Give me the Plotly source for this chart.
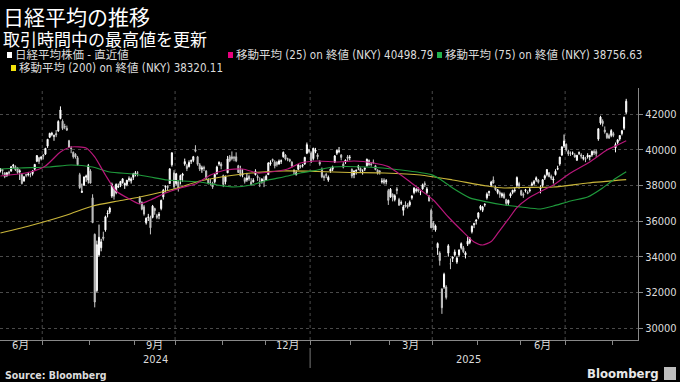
import numpy as np
import pandas as pd
import plotly.graph_objects as go

# ---------------- data ----------------
START_DATE = "2024-06-03"
END_DATE = "2025-08-12"
HOLIDAYS = ["2024-07-15", "2024-08-12", "2024-09-16", "2024-09-23", "2024-10-14",
            "2024-11-04", "2024-12-31", "2025-01-01", "2025-01-02", "2025-01-03",
            "2025-01-13", "2025-02-11", "2025-02-24", "2025-03-20", "2025-04-29",
            "2025-05-05", "2025-05-06", "2025-07-21", "2025-08-11"]

OPEN = [
    # 2024-06
    38800, 38880, 38700, 38540, 38750, 38800, 39090, 39050, 38980, 38750, 38600, 38250, 38600, 38600, 38600, 38650, 38900, 39350, 39550, 39500,
    # 2024-07
    39700, 39750, 40200, 40700, 40850, 40750, 40900, 41050, 41750, 41600, 41300, 41200, 40500, 40100, 39850, 39750, 39550, 38600, 37600, 38000, 38450, 38300,
    # 2024-08
    38800, 37300, 35250, 32100, 34100, 34500, 35100, 35500, 36400, 36500, 37400, 37800, 37600, 37900, 38000, 38150, 38000, 38050, 38300, 38250, 38450,
    # 2024-09
    38600, 38700, 37300, 37050, 36800, 35900, 36200, 36200, 36200, 36700, 36300, 36300, 36700, 37350, 37900, 37950, 38100, 39150, 38700,
    # 2024-10
    38100, 38200, 38300, 38550, 39200, 39100, 39050, 39350, 39400, 40000, 39600, 39150, 38900, 39000, 38800, 38300, 38150, 38100, 38200, 38650, 39200, 39200,
    # 2024-11
    38550, 38200, 38700, 39600, 39600, 39550, 39600, 39100, 38900, 38600, 38400, 38300, 38500, 38200, 38200, 38600, 38500, 38200, 38200, 38300,
    # 2024-12
    38300, 38600, 39200, 39450, 39300, 39300, 39200, 39350, 39600, 39700, 39500, 39450, 39300, 38800, 38600, 38900, 39100, 39100, 39200, 39800, 40000,
    # 2025-01
    39800, 39500, 39900, 39700, 39300, 38900, 38500, 38600, 38300, 38800, 38900, 39300, 39800, 39900, 39700, 39200, 39300, 39600, 39550,
    # 2025-02
    38900, 38600, 38800, 39000, 38950, 38800, 38900, 39100, 39400, 39200, 39300, 39100, 38850, 38800, 38200, 38300, 38200, 37700,
    # 2025-03
    37350, 37500, 37200, 37800, 37200, 37000, 36600, 36900, 36900, 36900, 37300, 37600, 37700, 37800, 37600, 37800, 38100, 37600, 37400, 36600,
    # 2025-04
    35900, 35500, 34500, 34200, 32200, 32300, 32300, 34200, 33600, 33900, 34100, 33700, 34100, 34500, 34500, 34100, 34700, 34800, 35400, 35800, 36000,
    # 2025-05
    36200, 36700, 36600, 36900, 37300, 37600, 38000, 38300, 37900, 37600, 37600, 37400, 37500, 37200, 37000, 37400, 37600, 37700, 38000, 38100,
    # 2025-06
    37700, 37500, 37700, 37600, 37700, 38000, 38100, 38300, 38300, 37800, 38000, 38400, 38600, 38700, 38500, 38300, 38600, 38900, 39200, 39700, 40200,
    # 2025-07
    40300, 39900, 39800, 39800, 39700, 39400, 39800, 39700, 39500, 39500, 39600, 39600, 39700, 39900, 39900, 40600, 41500, 41600, 41100, 40900, 40800, 40800,
    # 2025-08
    40900, 40100, 40400, 40600, 40900, 41200, 42100,
]
HIGH = [
    38950, 38900, 38720, 38750, 38820, 39080, 39200, 39120, 39000, 38900, 38650, 38500, 38650, 38750, 38700, 38850, 39200, 39700, 39600, 39650,
    39750, 40100, 40600, 40950, 41000, 40850, 41100, 41650, 42426, 41700, 41450, 41350, 40550, 40200, 39900, 39800, 39650, 38700, 38100, 38500, 38600, 39200,
    38900, 37500, 35300, 34900, 35800, 35000, 35400, 36300, 36600, 36800, 38150, 37950, 38100, 38100, 38250, 38400, 38150, 38300, 38500, 38450, 38700,
    38800, 38800, 37400, 37100, 36900, 36200, 36400, 36300, 36900, 36750, 36400, 36500, 37200, 37800, 38000, 38000, 38950, 39830, 38850,
    38700, 38300, 38600, 38700, 39500, 39200, 39400, 39450, 39650, 40250, 39650, 39250, 39100, 39100, 38850, 38400, 38350, 38200, 38650, 39100, 39350, 39300,
    38600, 38550, 39650, 39700, 39900, 39650, 39850, 39150, 39100, 38900, 38450, 38700, 38600, 38400, 38400, 38900, 38600, 38450, 38400, 38500,
    38600, 39300, 39400, 39500, 39400, 39350, 39450, 39450, 39900, 39750, 39550, 39500, 39350, 38900, 38850, 39200, 39150, 39200, 39600, 40400, 40050,
    39900, 40100, 40100, 39800, 39400, 39000, 38600, 38700, 38550, 38950, 39100, 39700, 40000, 40150, 39750, 39300, 39450, 39700, 39700,
    38950, 38850, 38900, 39150, 39000, 38900, 39000, 39500, 39450, 39300, 39450, 39150, 38900, 38850, 38400, 38400, 38350, 37800,
    37850, 37550, 37500, 37900, 37300, 37150, 36900, 37100, 37000, 37150, 37450, 37900, 37850, 37900, 37700, 38100, 38220, 37900, 37450, 36700,
    36000, 35800, 34800, 34300, 32200, 33100, 32400, 34700, 33900, 34000, 34400, 34000, 34400, 34800, 34600, 34300, 35100, 35100, 35750, 35900, 36100,
    36500, 36900, 36850, 37000, 37600, 37700, 38250, 38500, 38000, 37800, 37700, 37600, 37600, 37250, 37200, 37600, 37750, 37900, 38500, 38200,
    37750, 37600, 37800, 37700, 37850, 38200, 38300, 38500, 38350, 38000, 38350, 38600, 38900, 38750, 38600, 38500, 38900, 39100, 39600, 40200, 40850,
    40350, 40000, 39900, 39900, 39800, 39700, 39900, 39800, 39700, 39600, 39800, 39700, 39950, 40000, 40000, 41200, 41900, 41700, 41300, 40950, 40900, 41150,
    41000, 40400, 40600, 40800, 41100, 41850, 42850,
]
LOW = [
    38720, 38600, 38400, 38480, 38560, 38760, 38950, 38800, 38650, 38300, 38050, 38200, 38450, 38500, 38450, 38550, 38850, 39300, 39200, 39400,
    39450, 39700, 40100, 40650, 40750, 40500, 40700, 41000, 41700, 41100, 41150, 41050, 40100, 39800, 39500, 39500, 39100, 37800, 37600, 38000, 38200, 38100,
    38100, 35880, 31156, 32000, 34000, 34300, 34900, 35400, 36200, 36400, 37300, 37200, 37500, 37850, 37900, 38100, 37800, 37950, 38200, 38100, 38300,
    38500, 38500, 36950, 36600, 36300, 35800, 36000, 35250, 36150, 36350, 36100, 36100, 36600, 37200, 37600, 37700, 38100, 39050, 37800,
    38000, 37650, 38050, 38200, 39100, 38800, 39000, 39200, 39300, 39850, 39100, 38800, 38700, 38800, 38300, 38050, 38000, 37800, 38100, 38600, 39100, 38900,
    37900, 38050, 38700, 39300, 39400, 39350, 39300, 38700, 38500, 38450, 38100, 38200, 38250, 38000, 38150, 38550, 38250, 37900, 38100, 37900,
    38250, 38600, 39100, 39300, 38950, 39050, 39150, 39200, 39550, 39400, 39350, 39300, 39000, 38600, 38550, 38850, 38950, 39000, 39150, 39750, 39800,
    39250, 39400, 39800, 39450, 39100, 38400, 38250, 38400, 38200, 38700, 38800, 39250, 39700, 39800, 39400, 38950, 39200, 39350, 39400,
    38400, 38400, 38600, 38850, 38700, 38600, 38800, 39050, 39100, 39050, 39200, 38850, 38600, 38600, 38100, 38050, 38050, 36900,
    37300, 37100, 37100, 37500, 36850, 36900, 36300, 36750, 36700, 36800, 37200, 37500, 37600, 37600, 37450, 37750, 37900, 37500, 37100, 35600,
    35500, 35400, 34100, 33500, 30792, 32200, 31600, 34000, 33300, 33700, 34000, 33600, 34000, 34400, 34200, 33900, 34600, 34700, 35300, 35600, 35800,
    36100, 36600, 36500, 36800, 37200, 37400, 37900, 38100, 37700, 37500, 37300, 37300, 37250, 36850, 36900, 37300, 37500, 37600, 37900, 37800,
    37400, 37300, 37600, 37500, 37600, 37950, 38000, 38200, 38100, 37550, 37900, 38300, 38500, 38450, 38300, 38100, 38550, 38850, 39100, 39650, 40100,
    39900, 39650, 39650, 39700, 39550, 39400, 39700, 39500, 39400, 39300, 39500, 39400, 39600, 39700, 39600, 40500, 41400, 41300, 40900, 40600, 40600, 40700,
    40700, 39850, 40300, 40500, 40800, 41100, 42000,
]
CLOSE = [
    38923, 38837, 38490, 38703, 38683, 39038, 39134, 38876, 38720, 38814, 38102, 38482, 38570, 38633, 38596, 38804, 39173, 39667, 39341, 39583,
    39631, 40074, 40580, 40913, 40912, 40780, 40831, 41580, 42224, 41190, 41275, 41097, 40126, 40063, 39599, 39594, 39154, 37869, 37667, 38468, 38525, 39101,
    38126, 35909, 31458, 34675, 35089, 34831, 35025, 36232, 36442, 36726, 38062, 37388, 38062, 37951, 38211, 38364, 38110, 38288, 38371, 38362, 38647,
    38700, 38686, 37047, 36657, 36391, 36159, 36215, 35619, 36833, 36581, 36203, 36380, 37155, 37723, 37940, 37870, 38925, 39829, 37919,
    38651, 37808, 38552, 38635, 39332, 38937, 39277, 39380, 39605, 39910, 39180, 38911, 38981, 38954, 38411, 38104, 38143, 37913, 38605, 39027, 39277, 39081,
    38053, 38474, 39480, 39381, 39500, 39533, 39376, 38721, 38535, 38642, 38220, 38414, 38352, 38026, 38283, 38780, 38442, 38134, 38349, 38208,
    38513, 39248, 39276, 39395, 39091, 39160, 39367, 39372, 39849, 39470, 39457, 39364, 39081, 38813, 38701, 39161, 39036, 39130, 39568, 40281, 39894,
    39307, 40083, 39981, 39605, 39190, 38474, 38444, 38572, 38451, 38902, 39027, 39646, 39958, 39931, 39565, 39016, 39414, 39513, 39572,
    38520, 38798, 38831, 39066, 38787, 38801, 38963, 39461, 39149, 39174, 39270, 38878, 38678, 38776, 38237, 38142, 38256, 37155,
    37785, 37331, 37418, 37704, 36887, 37028, 36793, 36819, 36790, 37053, 37396, 37845, 37751, 37677, 37608, 38027, 38027, 37799, 37120, 35617,
    35624, 35725, 34736, 33781, 31136, 33012, 31714, 34609, 33586, 33982, 34267, 33920, 34377, 34730, 34280, 34220, 34868, 35039, 35705, 35839, 36045,
    36452, 36830, 36780, 36928, 37503, 37644, 38183, 38128, 37755, 37753, 37498, 37529, 37299, 36985, 37160, 37532, 37724, 37722, 38433, 37965,
    37470, 37446, 37747, 37554, 37741, 38088, 38211, 38421, 38173, 37834, 38311, 38536, 38885, 38488, 38403, 38354, 38790, 38942, 39584, 40150, 40487,
    39986, 39762, 39785, 39810, 39587, 39688, 39821, 39646, 39570, 39459, 39678, 39663, 39901, 39819, 39774, 41171, 41826, 41456, 40998, 40674, 40654, 41069,
    40799, 40290, 40549, 40794, 41059, 41820, 42718,
]

# moving averages (at these trading days)
MA25_DATES = ["2024-06-03", "2024-06-21", "2024-07-02", "2024-07-11", "2024-07-19", "2024-07-30", "2024-08-05",
              "2024-08-13", "2024-08-20", "2024-08-29", "2024-09-04", "2024-09-11", "2024-09-24", "2024-10-03",
              "2024-10-15", "2024-10-24", "2024-11-05", "2024-11-15", "2024-11-26", "2024-12-04", "2024-12-16",
              "2024-12-24", "2025-01-09", "2025-01-23", "2025-02-04", "2025-02-18", "2025-02-28", "2025-03-04",
              "2025-03-13", "2025-03-24", "2025-04-01", "2025-04-10", "2025-04-18", "2025-04-28", "2025-05-07",
              "2025-05-13", "2025-05-16", "2025-05-23", "2025-05-29", "2025-06-05", "2025-06-13", "2025-06-23",
              "2025-07-03", "2025-07-16", "2025-07-29", "2025-08-05", "2025-08-12"]
MA25 = [38524, 38748, 39084, 39869, 40150, 40094, 39590,
        38580, 37683, 37178, 36954, 37178, 37570, 37851,
        38075, 38580, 38860, 38916, 38692, 38748, 38916,
        39253, 39365, 39309, 39365, 39253, 39050, 38900,
        38299, 37739, 37178, 36225, 35496, 34823, 34655,
        34850, 35300, 36100, 36750, 37250, 37650, 38019,
        38692, 39309, 39981, 40262, 40499]

MA75_DATES = ["2024-06-03", "2024-06-14", "2024-07-04", "2024-07-19", "2024-08-02", "2024-08-15", "2024-08-30",
              "2024-09-11", "2024-09-25", "2024-10-04", "2024-10-17", "2024-10-29", "2024-11-11", "2024-11-21",
              "2024-12-03", "2024-12-12", "2024-12-24", "2025-01-09", "2025-01-21", "2025-02-13", "2025-03-10",
              "2025-03-31", "2025-04-04", "2025-04-14", "2025-04-24", "2025-05-09", "2025-05-21", "2025-06-02",
              "2025-06-13", "2025-06-23", "2025-07-03", "2025-07-15", "2025-07-25", "2025-08-01", "2025-08-12"]
MA75 = [38916, 38972, 39028, 39140, 39028, 38748, 38636,
        38468, 38299, 38243, 38187, 38019, 37907, 38019,
        38299, 38468, 38692, 38860, 39028, 39028, 38860,
        38600, 38350, 37850, 37300, 37070, 36898, 36786,
        36674, 36842, 37122, 37346, 37851, 38299, 38757]

MA200_DATES = ["2024-06-03", "2024-06-24", "2024-07-17", "2024-08-02", "2024-08-21", "2024-09-04", "2024-09-30",
               "2024-10-17", "2024-10-31", "2024-11-21", "2024-12-12", "2025-01-09", "2025-01-31", "2025-02-26",
               "2025-03-24", "2025-04-14", "2025-05-09", "2025-05-21", "2025-06-02", "2025-06-23", "2025-07-15",
               "2025-08-12"]
MA200 = [35328, 35776, 36337, 36842, 37122, 37346, 37795,
         38243, 38468, 38692, 38804, 38776, 38720, 38692,
         38580, 38299, 37963, 37851, 37879, 37907, 38131,
         38320]

Y_TICKS = [30000, 32000, 34000, 36000, 38000, 40000, 42000]
Y_RANGE = [29327, 43458]
MONTH_LABEL_PERIODS = ["2024-06", "2024-09", "2024-12", "2025-03", "2025-06"]
MONTH_LABEL_TEXT = ["6月", "9月", "12月", "3月", "6月"]
YEAR_LABELS = ["2024", "2025"]
GRID_MONTHS = [1, 4, 7, 10]

TITLE = "日経平均の推移"
SUBTITLE = "取引時間中の最高値を更新"
LEGEND_TEXT = ["日経平均株価 - 直近値",
               "移動平均 (25) on 終値 (NKY) 40498.79",
               "移動平均 (75) on 終値 (NKY) 38756.63",
               "移動平均 (200) on 終値 (NKY) 38320.11"]

# ---------------- build ----------------
bd = pd.bdate_range(START_DATE, END_DATE)
hol = pd.DatetimeIndex(HOLIDAYS)
DATES = bd[~bd.isin(hol)]
n = len(DATES)
for name, arr in [("OPEN", OPEN), ("HIGH", HIGH), ("LOW", LOW), ("CLOSE", CLOSE)]:
    if len(arr) != n:
        raise ValueError(f"{name} has {len(arr)} values, expected {n}")
pos = {d.strftime("%Y-%m-%d"): i for i, d in enumerate(DATES)}
idx = np.arange(n)

def to_idx(ds):
    return [pos[d] for d in ds]

months = DATES.to_period("M")
starts = [i for i in range(1, n) if months[i] != months[i - 1]]
bounds = [s - 0.5 for s in starts]
grid_b = [s - 0.5 for s in starts if DATES[s].month in GRID_MONTHS]
year_b = [s - 0.5 for s in starts if DATES[s].month == 1][0]

X_RANGE = [-0.2, 297.5]

W, H = 680, 382
ML, MR, MT, MB = 0, 42, 88, 42
PW, PH = W - ML - MR, H - MT - MB

def px(x):
    return (x - ML) / PW

def py(y):
    return 1 - (y - MT) / PH

COL_MA25 = "#b8177a"
COL_MA75 = "#1f9a3c"
COL_MA200 = "#c9b53a"
SQ_COLS = ["#ffffff", "#e6007e", "#22b14c", "#f2e20c"]

fig = go.Figure()
fig.add_trace(go.Candlestick(
    x=idx, open=OPEN, high=HIGH, low=LOW, close=CLOSE,
    increasing=dict(line=dict(color="#ffffff", width=1), fillcolor="#ffffff"),
    decreasing=dict(line=dict(color="#c4c4c4", width=1), fillcolor="#b4b4b4"),
    whiskerwidth=0, showlegend=False, hoverinfo="skip",
))
for ds, vals, col in [(MA200_DATES, MA200, COL_MA200), (MA75_DATES, MA75, COL_MA75), (MA25_DATES, MA25, COL_MA25)]:
    fig.add_trace(go.Scatter(x=to_idx(ds), y=vals, mode="lines",
                             line=dict(color=col, width=1.2, shape="spline", smoothing=0.6),
                             showlegend=False, hoverinfo="skip"))

shapes = []
for b in grid_b:
    shapes.append(dict(type="line", xref="x", yref="paper", x0=b, x1=b, y0=0, y1=1,
                       line=dict(color="#4a4a4a", width=1, dash="dot"), layer="below"))
# year divider below axis
shapes.append(dict(type="line", xref="x", yref="paper", x0=year_b, x1=year_b,
                   y0=py(348), y1=py(368), line=dict(color="#777777", width=1)))

ann = []
ann.append(dict(text=TITLE, x=px(1), y=py(15.5), xref="paper", yref="paper", xanchor="left", yanchor="middle",
                showarrow=False, font=dict(family="Noto Sans CJK JP", size=21, color="#ffffff")))
ann.append(dict(text=SUBTITLE, x=px(1), y=py(38.5), xref="paper", yref="paper", xanchor="left", yanchor="middle",
                showarrow=False, font=dict(family="Noto Sans CJK JP", size=17, color="#ffffff")))

leg_font = dict(family="DejaVu Sans Condensed, Noto Sans CJK JP", size=11.5, color="#dcdcdc")
leg_pos = [(7, 55), (228, 55), (437, 55), (11, 68)]
for (lx, ly), txt, sc in zip(leg_pos, LEGEND_TEXT, SQ_COLS):
    shapes.append(dict(type="rect", xref="paper", yref="paper", x0=px(lx), x1=px(lx + 5),
                       y0=py(ly + 3), y1=py(ly - 3), fillcolor=sc, line=dict(width=0)))
    ann.append(dict(text=txt, x=px(lx + 6), y=py(ly), xref="paper", yref="paper", xanchor="left",
                    yanchor="middle", showarrow=False, font=leg_font))

tick_font = dict(family="DejaVu Sans Condensed, Noto Sans CJK JP", size=11, color="#dcdcdc")
for per, txt in zip(MONTH_LABEL_PERIODS, MONTH_LABEL_TEXT):
    p = pd.Period(per, freq="M")
    members = idx[months == p]
    ann.append(dict(text=txt, x=float(members.mean()), y=py(345), xref="x", yref="paper",
                    xanchor="center", yanchor="middle", showarrow=False, font=tick_font))
year_centres = [(X_RANGE[0] + year_b) / 2, (year_b + (n - 1)) / 2]
for xc, txt in zip(year_centres, YEAR_LABELS):
    ann.append(dict(text=txt, x=xc, y=py(359), xref="x", yref="paper", xanchor="center",
                    yanchor="middle", showarrow=False, font=tick_font))

ann.append(dict(text="<b>Source: Bloomberg</b>", x=px(3), y=py(375), xref="paper", yref="paper",
                xanchor="left", yanchor="middle", showarrow=False,
                font=dict(family="DejaVu Sans Condensed", size=10.5, color="#dcdcdc")))
ann.append(dict(text="<b>Bloomberg</b>", x=px(661), y=py(373), xref="paper", yref="paper",
                xanchor="right", yanchor="middle", showarrow=False,
                font=dict(family="DejaVu Sans Condensed", size=13, color="#e8e8e8")))
shapes.append(dict(type="rect", xref="paper", yref="paper", x0=px(664), x1=px(676),
                   y0=py(380), y1=py(367), fillcolor="#bdbdbd", line=dict(width=0)))

fig.update_layout(
    width=W, height=H, autosize=False,
    margin=dict(l=ML, r=MR, t=MT, b=MB, pad=0),
    paper_bgcolor="#000000", plot_bgcolor="#000000",
    showlegend=False, hovermode=False,
    shapes=shapes, annotations=ann,
    xaxis=dict(range=X_RANGE, rangeslider=dict(visible=False), showgrid=False, zeroline=False,
               tickmode="array", tickvals=bounds, ticktext=[""] * len(bounds), ticks="outside",
               ticklen=4, tickcolor="#888888", showline=True, linecolor="#888888", linewidth=1,
               showticklabels=False, fixedrange=True),
    yaxis=dict(range=Y_RANGE, side="right", tickmode="array", tickvals=Y_TICKS,
               ticktext=[str(v) for v in Y_TICKS], ticks="outside", ticklen=4, tickcolor="#888888",
               showline=True, linecolor="#888888", linewidth=1, showgrid=True,
               gridcolor="#4a4a4a", griddash="dot", gridwidth=1, zeroline=False,
               tickfont=tick_font, fixedrange=True),
)

fig.write_html("out.html", config={"displayModeBar": False},
               post_script="document.body.style.margin='0';document.body.style.background='#000';")
